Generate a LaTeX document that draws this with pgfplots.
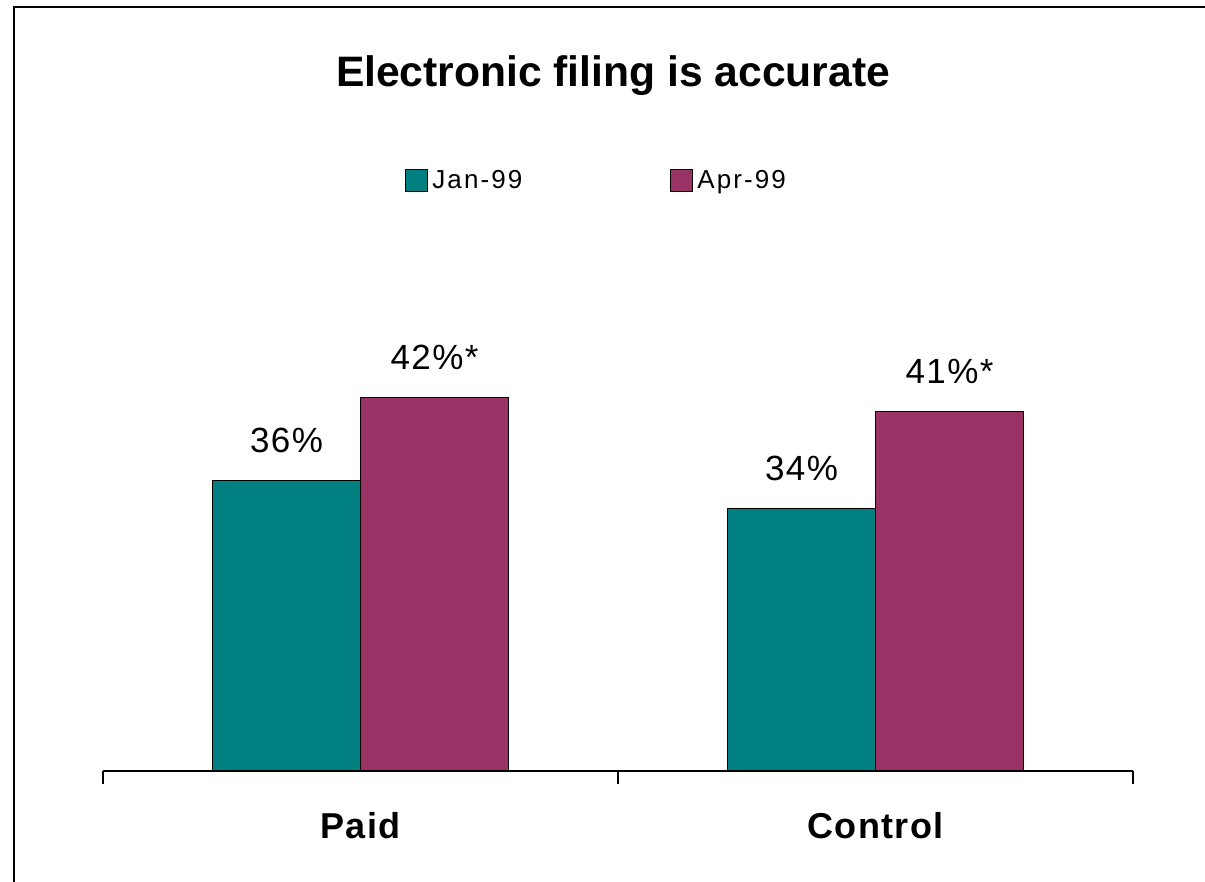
\documentclass[border=0pt]{standalone}
\usepackage{pgfplots}
\pgfplotsset{compat=1.18}
\usepackage{fontspec}
\setmainfont{Liberation Sans}
\newfontfamily\lsa[LetterSpace=4]{Liberation Sans}
\newfontfamily\lsb[LetterSpace=8]{Liberation Sans}
\definecolor{janc}{HTML}{008080}
\definecolor{aprc}{HTML}{993366}
\begin{document}
\begin{tikzpicture}
\path[use as bounding box] (0,0) rectangle (602.5pt,441pt);
\draw[line width=1pt] (7pt,0) -- (7pt,437.5pt) -- (602.5pt,437.5pt);
\node[font=\fontsize{21.3}{25}\selectfont\bfseries] at (306.5pt,403.25pt) {Electronic filing is accurate};
\begin{axis}[
  at={(51.5pt,55.5pt)}, anchor=south west,
  scale only axis, width=515pt, height=242.1pt,
  xmin=0, xmax=2, ymin=15, ymax=50,
  clip mode=individual,
  axis y line=none, axis x line*=bottom,
  x axis line style={-, line width=0.6pt},
  xtick={0,1,2}, xticklabels={}, tick align=outside, major tick length=6.5pt,
  tick style={line width=0.6pt, black},
  ybar=0pt, bar width=74pt,
  legend columns=2,
  legend style={at={(0.293,1.219)}, anchor=west, draw=none, fill=none, inner sep=0pt,
    font=\lsb\fontsize{13}{15}\selectfont,
    nodes={inner xsep=2pt},
    /tikz/every even column/.append style={column sep=72pt}},
  legend image code/.code={\draw[#1] (0pt,-5.5pt) rectangle (11pt,5.5pt);},
  nodes near coords style={anchor=base, yshift=13.75pt, font=\lsa\fontsize{17.5}{20}\selectfont, text=black},
]
\addplot[fill=janc, draw=black, line width=0.6pt, point meta=explicit symbolic, nodes near coords]
  coordinates {(0.5,36) [36\%] (1.5,34) [34\%]};
\addplot[fill=aprc, draw=black, line width=0.6pt, point meta=explicit symbolic, nodes near coords]
  coordinates {(0.5,42) [42\%*] (1.5,41) [41\%*]};
\legend{Jan-99, Apr-99}
\node[anchor=base, font=\lsa\fontsize{18}{21}\selectfont\bfseries, yshift=-33.9pt] at (axis cs:0.5,15) {Paid};
\node[anchor=base, font=\lsa\fontsize{18}{21}\selectfont\bfseries, yshift=-33.9pt] at (axis cs:1.5,15) {Control};
\end{axis}
\end{tikzpicture}
\end{document}
